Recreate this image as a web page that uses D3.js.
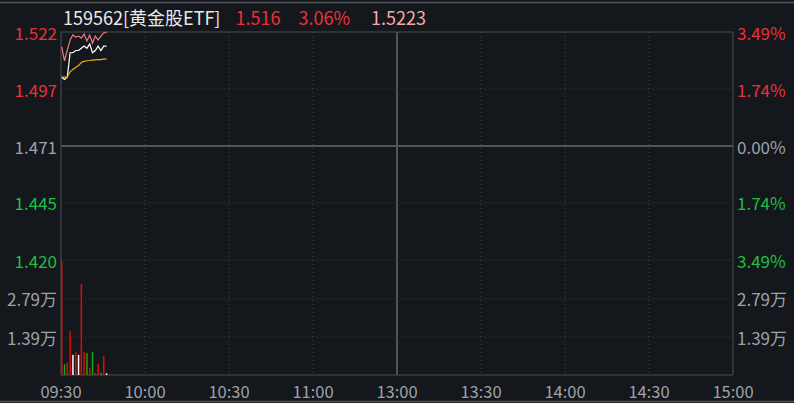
<!DOCTYPE html>
<html>
<head>
<meta charset="utf-8">
<script src="https://cdn.jsdelivr.net/npm/d3@7"></script>
<style>
    html, body { margin: 0; padding: 0; background: #14171c; }
    svg { display: block; }
    text { font-family: "Noto Sans CJK SC", "Noto Sans", sans-serif; }
</style>
</head>
<body>
<svg width="794" height="403"></svg>
<script>
// Stock info
var code = '159562';
var stockName = '黄金股ETF';
var prevClose = 1.471;

// Minute data from 09:30 (index 0) onward
var prices = [1.502, 1.501, 1.502, 1.513, 1.513, 1.514, 1.514, 1.515, 1.516,
    1.515, 1.517, 1.513, 1.514, 1.516, 1.514, 1.516, 1.516];
var avgPrices = [1.5020, 1.5020, 1.5021, 1.5044, 1.5055, 1.5064, 1.5072, 1.5086, 1.5091,
    1.5094, 1.5095, 1.5097, 1.5098, 1.5099, 1.5099, 1.5101, 1.5102];
var iopv = [1.5156, 1.5093, 1.5142, 1.5187, 1.5210, 1.5201, 1.5205, 1.5196, 1.5214,
    1.5183, 1.5210, 1.5174, 1.5205, 1.5187, 1.5205, 1.5219, 1.5223];
var volumes = [41800, 4000, 4500, 16100, 7400, 8400, 7400, 33400, 8400,
    8000, 2700, 8400, 800, 4100, 800, 7000, 600];

// Axis labels
var pctTicks = [3.49, 1.74, 0, -1.74, -3.49];
var priceLabels = ['1.522', '1.497', '1.471', '1.445', '1.420'];
var pctLabels = ['3.49%', '1.74%', '0.00%', '1.74%', '3.49%'];
var volLabels = ['2.79万', '1.39万'];
var volTicks = [27900, 13900];
var timeLabels = ['09:30', '10:00', '10:30', '11:00', '13:00', '13:30', '14:00', '14:30', '15:00'];

var colors = {
    red: '#ee2f3a', green: '#1fbf45', grey: '#9ea2a8', white: '#e9e9e9',
    grid: '#42464c', border: '#4a4e54',
    barRed: '#e00a0a', barGreen: '#12a812', barWhite: '#ffffff',
    line: '#ffffff', avg: '#ffab00', iopv: '#f07a7a'
};

var svg = d3.select('svg');

var pad = {l: 61, r: 733, t: 32, priceB: 260, volT: 261, b: 375};

// Scales
var x = d3.scaleLinear().domain([0, 240]).range([pad.l, pad.r]);
var maxPct = d3.max(pctTicks) / 100;
var yPrice = d3.scaleLinear()
    .domain([prevClose * (1 - maxPct), prevClose * (1 + maxPct)])
    .range([pad.priceB, pad.t]);
var yVol = d3.scaleLinear()
    .domain([0, d3.max(volumes)])
    .range([pad.b, pad.volT]);

// Top and bottom frame lines
svg.append('line').attr('x1', 0).attr('x2', 794).attr('y1', 2.5).attr('y2', 2.5)
    .attr('stroke', '#50545a').attr('stroke-width', 1.5);
svg.append('line').attr('x1', 0).attr('x2', 794).attr('y1', 401.5).attr('y2', 401.5)
    .attr('stroke', '#50545a').attr('stroke-width', 1.5);

var grid = svg.append('g');

// Vertical grid lines
timeLabels.forEach(function(t, i) {
    var xv = x(i * 30);
    if (i === 0 || i === timeLabels.length - 1) return;
    var solid = (i === 4);
    grid.append('line')
        .attr('x1', xv).attr('x2', xv)
        .attr('y1', pad.t).attr('y2', pad.b)
        .attr('stroke', solid ? '#50545a' : colors.grid)
        .attr('stroke-width', solid ? 2 : 1)
        .attr('stroke-dasharray', solid ? null : '1,3');
});

// Horizontal price grid lines
pctTicks.forEach(function(p, i) {
    if (i === 0) return;
    var yv = yPrice(prevClose * (1 + p / 100));
    var solid = (p === 0);
    grid.append('line')
        .attr('x1', pad.l).attr('x2', pad.r)
        .attr('y1', yv).attr('y2', yv)
        .attr('stroke', solid ? '#50545a' : colors.grid)
        .attr('stroke-width', solid ? 2 : 1)
        .attr('stroke-dasharray', solid ? null : '1,3');
});

// Volume grid lines
volTicks.forEach(function(v) {
    grid.append('line')
        .attr('x1', pad.l).attr('x2', pad.r)
        .attr('y1', yVol(v)).attr('y2', yVol(v))
        .attr('stroke', colors.grid)
        .attr('stroke-dasharray', '1,3');
});

// Frame
grid.append('path')
    .attr('d', 'M' + pad.l + ',' + pad.t + 'H' + pad.r + 'V' + pad.b + 'H' + pad.l + 'Z')
    .attr('fill', 'none')
    .attr('stroke', colors.border)
    .attr('stroke-width', 1);

// Volume bars, coloured by price change vs previous minute
svg.append('g').selectAll('rect')
    .data(volumes)
    .enter().append('rect')
    .attr('x', function(d, i) { return x(i); })
    .attr('y', function(d) { return yVol(d); })
    .attr('width', 1.5)
    .attr('height', function(d) { return pad.b - yVol(d); })
    .attr('fill', function(d, i) {
        var prev = i === 0 ? prevClose : prices[i - 1];
        if (prices[i] > prev) return colors.barRed;
        if (prices[i] < prev) return colors.barGreen;
        return colors.barWhite;
    });

// Price lines
var line = d3.line()
    .x(function(d, i) { return x(i) + 0.7; })
    .y(function(d) { return yPrice(d); });

svg.append('path').datum(iopv)
    .attr('d', line).attr('fill', 'none')
    .attr('stroke', colors.iopv).attr('stroke-width', 1.2);
svg.append('path').datum(prices)
    .attr('d', line).attr('fill', 'none')
    .attr('stroke', colors.line).attr('stroke-width', 1.2);
svg.append('path').datum(avgPrices)
    .attr('d', line).attr('fill', 'none')
    .attr('stroke', colors.avg).attr('stroke-width', 1.2);

// Axis labels
function tickColor(p) {
    if (p > 0) return colors.red;
    if (p < 0) return colors.green;
    return colors.grey;
}

var labels = svg.append('g').attr('font-size', 17);

pctTicks.forEach(function(p, i) {
    var yv = yPrice(prevClose * (1 + p / 100));
    labels.append('text')
        .attr('x', 57).attr('y', yv)
        .attr('text-anchor', 'end')
        .attr('dominant-baseline', 'central')
        .attr('fill', tickColor(p))
        .text(priceLabels[i]);
    labels.append('text')
        .attr('x', 737).attr('y', yv)
        .attr('dominant-baseline', 'central')
        .attr('fill', tickColor(p))
        .text(pctLabels[i]);
});

volTicks.forEach(function(v, i) {
    labels.append('text')
        .attr('x', 57).attr('y', yVol(v))
        .attr('text-anchor', 'end')
        .attr('dominant-baseline', 'central')
        .attr('fill', colors.grey)
        .text(volLabels[i]);
    labels.append('text')
        .attr('x', 737).attr('y', yVol(v))
        .attr('dominant-baseline', 'central')
        .attr('fill', colors.grey)
        .text(volLabels[i]);
});

timeLabels.forEach(function(t, i) {
    labels.append('text')
        .attr('x', x(i * 30)).attr('y', 391)
        .attr('text-anchor', 'middle')
        .attr('dominant-baseline', 'central')
        .attr('font-size', 16.5)
        .attr('fill', colors.grey)
        .text(t);
});

// Header: code/name, last price, change %, last IOPV
var last = prices[prices.length - 1];
var pct = (last - prevClose) / prevClose * 100;
var header = svg.append('text')
    .attr('x', 63).attr('y', 17)
    .attr('dominant-baseline', 'central')
    .attr('font-size', 18);
header.append('tspan').attr('fill', colors.white).text(code + '[' + stockName + ']');
header.append('tspan').attr('dx', 15).attr('fill', colors.red).text(last.toFixed(3));
header.append('tspan').attr('dx', 18).attr('fill', colors.red).text(pct.toFixed(2) + '%');
header.append('tspan').attr('dx', 21).attr('fill', '#f4a8a8').text(iopv[iopv.length - 1].toFixed(4));
</script>
</body>
</html>
